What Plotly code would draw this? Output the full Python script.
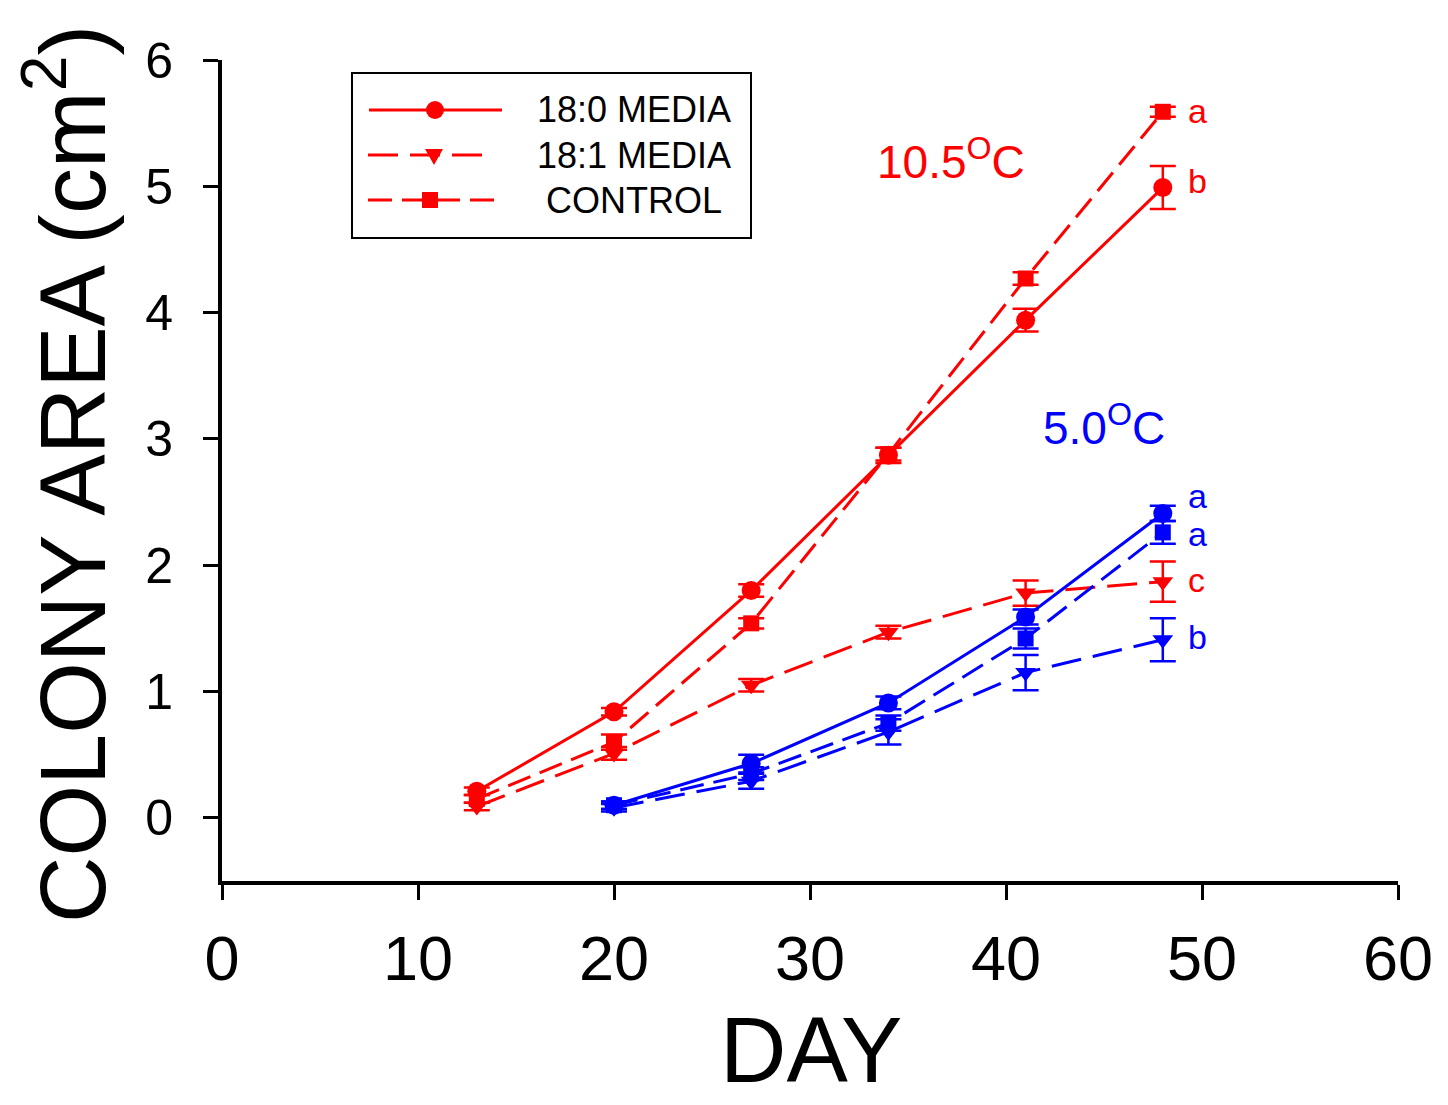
import plotly.graph_objects as go

# ---------------- data ----------------
days_warm = [13, 20, 27, 34, 41, 48]
days_cold = [20, 27, 34, 41, 48]

warm_180 = [0.21, 0.84, 1.80, 2.87, 3.94, 4.99]
warm_180_err = [0.03, 0.03, 0.05, 0.06, 0.09, 0.17]
warm_181 = [0.09, 0.51, 1.05, 1.47, 1.78, 1.87]
warm_181_err = [0.03, 0.05, 0.05, 0.05, 0.10, 0.16]
warm_ctrl = [0.15, 0.60, 1.54, 2.88, 4.27, 5.59]
warm_ctrl_err = [0.03, 0.06, 0.04, 0.05, 0.05, 0.04]

cold_180 = [0.10, 0.43, 0.91, 1.59, 2.41]
cold_180_err = [0.03, 0.07, 0.05, 0.06, 0.06]
cold_ctrl = [0.10, 0.35, 0.75, 1.42, 2.26]
cold_ctrl_err = [0.03, 0.05, 0.06, 0.08, 0.09]
cold_181 = [0.08, 0.29, 0.68, 1.15, 1.41]
cold_181_err = [0.03, 0.06, 0.10, 0.14, 0.17]

legend_labels = ["18:0 MEDIA", "18:1 MEDIA", "CONTROL"]
temp_labels = ["10.5<sup>O</sup>C", "5.0<sup>O</sup>C"]
sig_letters = ["a", "b", "a", "a", "c", "b"]
sig_y = [5.60, 5.04, 2.55, 2.25, 1.88, 1.43]
sig_colors = ["red", "red", "blue", "blue", "red", "blue"]

# ---------------- styles ----------------
RED = "#ff0000"
BLUE = "#0000ff"
FONT = "Liberation Sans, Arial, sans-serif"
DASH_181 = "30px,12px"
DASH_CTRL = "24px,10px"

fig = go.Figure()

def add_series(x, y, err, color, symbol, dash, size):
    fig.add_trace(go.Scatter(
        x=x, y=y, mode="lines+markers",
        line=dict(color=color, width=3, dash=dash),
        marker=dict(color=color, symbol=symbol, size=size, line=dict(width=0)),
        error_y=dict(type="data", array=err, visible=True, color=color,
                     thickness=2.5, width=13),
        showlegend=False,
    ))

add_series(days_warm, warm_ctrl, warm_ctrl_err, RED, "square", DASH_CTRL, 16)
add_series(days_warm, warm_181, warm_181_err, RED, "triangle-down", DASH_181, 18)
add_series(days_warm, warm_180, warm_180_err, RED, "circle", "solid", 19)
add_series(days_cold, cold_ctrl, cold_ctrl_err, BLUE, "square", DASH_CTRL, 16)
add_series(days_cold, cold_181, cold_181_err, BLUE, "triangle-down", DASH_181, 18)
add_series(days_cold, cold_180, cold_180_err, BLUE, "circle", "solid", 19)

# ---------------- layout geometry ----------------
# page has an 8px body margin; figure coordinates are page coordinates - 8
OFF = 8
W, H = 1448 - OFF, 1105 - OFF
L, R, T, B = 222 - OFF, 50, 60 - OFF, 224
PW = W - L - R
PH = H - T - B

def px2paper(px, py):
    # px, py given in page pixels
    return (px - OFF - L) / PW, (H - B - (py - OFF)) / PH

annotations = []
shapes = []

# significance letters
for txt, yv, c in zip(sig_letters, sig_y, sig_colors):
    annotations.append(dict(x=49.2, y=yv, xref="x", yref="y", text=txt,
                            showarrow=False, xanchor="left", yanchor="middle",
                            font=dict(family=FONT, size=34,
                                      color=RED if c == "red" else BLUE)))

# temperature labels
annotations.append(dict(x=37.2, y=5.22, xref="x", yref="y", text=temp_labels[0],
                        showarrow=False, xanchor="center", yanchor="middle",
                        font=dict(family=FONT, size=46, color=RED)))
annotations.append(dict(x=45.0, y=3.11, xref="x", yref="y", text=temp_labels[1],
                        showarrow=False, xanchor="center", yanchor="middle",
                        font=dict(family=FONT, size=46, color=BLUE)))

# axis titles
ax, ay = px2paper(66, 474)
annotations.append(dict(x=ax, y=ay, xref="paper", yref="paper",
                        text="COLONY AREA (cm<sup>2</sup>)", textangle=-90,
                        showarrow=False, xanchor="center", yanchor="middle",
                        font=dict(family=FONT, size=92, color="black")))
ax, ay = px2paper(811, 1103)
annotations.append(dict(x=ax, y=ay, xref="paper", yref="paper",
                        text="DAY", showarrow=False, xanchor="center",
                        yanchor="bottom",
                        font=dict(family=FONT, size=92, color="black")))

# custom legend box
x0, y0 = px2paper(352, 73)
x1, y1 = px2paper(751, 238)
shapes.append(dict(type="rect", xref="paper", yref="paper", x0=x0, y0=y1,
                   x1=x1, y1=y0, line=dict(color="black", width=2),
                   fillcolor="white", layer="above"))

leg_rows = [
    (110, 369, 502, 435, "solid", "circle"),
    (155, 368, 488, 434, DASH_181, "tri"),
    (200, 368, 494, 430, DASH_CTRL, "square"),
]
for (py, lx0, lx1, mx, dash, mk), label in zip(leg_rows, legend_labels):
    a0, b0 = px2paper(lx0, py)
    a1, _ = px2paper(lx1, py)
    shapes.append(dict(type="line", xref="paper", yref="paper", x0=a0, y0=b0,
                       x1=a1, y1=b0, line=dict(color=RED, width=3, dash=dash),
                       layer="above"))
    ma, mb = px2paper(mx, py)
    if mk == "circle":
        shapes.append(dict(type="circle", xref="paper", yref="paper",
                           xsizemode="pixel", ysizemode="pixel",
                           xanchor=ma, yanchor=mb, x0=-9, x1=9, y0=-9, y1=9,
                           fillcolor=RED, line=dict(width=0), layer="above"))
    elif mk == "square":
        shapes.append(dict(type="rect", xref="paper", yref="paper",
                           xsizemode="pixel", ysizemode="pixel",
                           xanchor=ma, yanchor=mb, x0=-8, x1=8, y0=-8, y1=8,
                           fillcolor=RED, line=dict(width=0), layer="above"))
    else:
        shapes.append(dict(type="path", xref="paper", yref="paper",
                           xsizemode="pixel", ysizemode="pixel",
                           xanchor=ma, yanchor=mb,
                           path="M-9,6 L9,6 L0,-10 Z",
                           fillcolor=RED, line=dict(width=0), layer="above"))
    ta, tb = px2paper(634, py)
    annotations.append(dict(x=ta, y=tb, xref="paper", yref="paper", text=label,
                            showarrow=False, xanchor="center", yanchor="middle",
                            font=dict(family=FONT, size=36, color="black")))

fig.update_layout(
    width=W, height=H,
    margin=dict(l=L, r=R, t=T, b=B, autoexpand=False),
    paper_bgcolor="white", plot_bgcolor="white",
    annotations=annotations, shapes=shapes,
    font=dict(family=FONT, color="black"),
)
fig.update_xaxes(range=[0, 60], tickvals=[0, 10, 20, 30, 40, 50, 60],
                 showgrid=False, zeroline=False, showline=True,
                 linecolor="black", linewidth=4, ticks="outside", ticklen=15,
                 tickwidth=3, tickcolor="black", ticklabelstandoff=4,
                 tickfont=dict(family=FONT, size=63, color="black"))
fig.update_yaxes(range=[-0.5, 6], tickvals=[0, 1, 2, 3, 4, 5, 6],
                 showgrid=False, zeroline=False, showline=True,
                 linecolor="black", linewidth=4, ticks="outside", ticklen=15,
                 tickwidth=3, tickcolor="black", ticklabelstandoff=20,
                 tickfont=dict(family=FONT, size=50, color="black"))

fig.write_html("out.html")
